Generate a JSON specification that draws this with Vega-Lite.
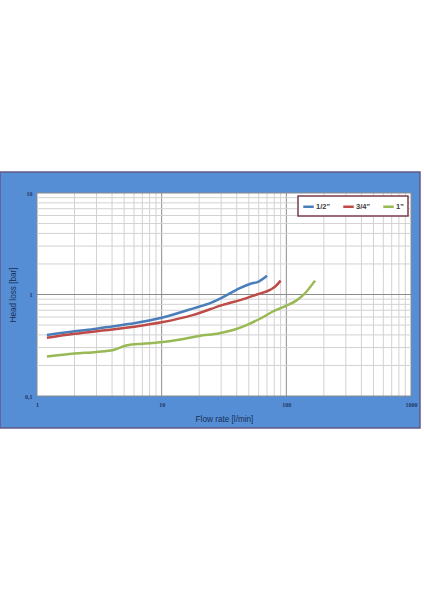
{
  "$schema": "https://vega.github.io/schema/vega-lite/v6.json",
  "autosize": {"type": "none"},
  "padding": {"left": 37, "top": 193, "right": 13, "bottom": 204},
  "width": 374,
  "height": 203,
  "background": "#ffffff",
  "config": {
    "view": {"stroke": null}
  },
  "datasets": {
    "curves": [
      {"size": "1/2\"", "flow": 1.2, "loss": 0.40},
      {"size": "1/2\"", "flow": 2, "loss": 0.435},
      {"size": "1/2\"", "flow": 3, "loss": 0.46},
      {"size": "1/2\"", "flow": 4, "loss": 0.485},
      {"size": "1/2\"", "flow": 6, "loss": 0.52},
      {"size": "1/2\"", "flow": 10, "loss": 0.59},
      {"size": "1/2\"", "flow": 18, "loss": 0.73},
      {"size": "1/2\"", "flow": 25, "loss": 0.83},
      {"size": "1/2\"", "flow": 31, "loss": 0.94},
      {"size": "1/2\"", "flow": 42, "loss": 1.15},
      {"size": "1/2\"", "flow": 51, "loss": 1.27},
      {"size": "1/2\"", "flow": 60, "loss": 1.34},
      {"size": "1/2\"", "flow": 70, "loss": 1.53},
      {"size": "3/4\"", "flow": 1.2, "loss": 0.375},
      {"size": "3/4\"", "flow": 2, "loss": 0.41},
      {"size": "3/4\"", "flow": 4, "loss": 0.452},
      {"size": "3/4\"", "flow": 6, "loss": 0.482},
      {"size": "3/4\"", "flow": 10, "loss": 0.532},
      {"size": "3/4\"", "flow": 18, "loss": 0.63},
      {"size": "3/4\"", "flow": 31, "loss": 0.79},
      {"size": "3/4\"", "flow": 48, "loss": 0.92},
      {"size": "3/4\"", "flow": 58, "loss": 1.0},
      {"size": "3/4\"", "flow": 74, "loss": 1.11},
      {"size": "3/4\"", "flow": 81, "loss": 1.19},
      {"size": "3/4\"", "flow": 90, "loss": 1.37},
      {"size": "1\"", "flow": 1.2, "loss": 0.245},
      {"size": "1\"", "flow": 2, "loss": 0.262},
      {"size": "1\"", "flow": 3, "loss": 0.272},
      {"size": "1\"", "flow": 4.1, "loss": 0.284},
      {"size": "1\"", "flow": 5.3, "loss": 0.316},
      {"size": "1\"", "flow": 7, "loss": 0.327},
      {"size": "1\"", "flow": 9.7, "loss": 0.338},
      {"size": "1\"", "flow": 15, "loss": 0.365},
      {"size": "1\"", "flow": 20, "loss": 0.39},
      {"size": "1\"", "flow": 29, "loss": 0.415},
      {"size": "1\"", "flow": 38, "loss": 0.45},
      {"size": "1\"", "flow": 48, "loss": 0.50},
      {"size": "1\"", "flow": 62, "loss": 0.58},
      {"size": "1\"", "flow": 78, "loss": 0.68},
      {"size": "1\"", "flow": 100, "loss": 0.775},
      {"size": "1\"", "flow": 120, "loss": 0.87},
      {"size": "1\"", "flow": 137, "loss": 0.99},
      {"size": "1\"", "flow": 170, "loss": 1.37}
    ],
    "gridx": [
      {"v": 1, "kind": "major"}, {"v": 2, "kind": "minor"}, {"v": 3, "kind": "minor"},
      {"v": 4, "kind": "minor"}, {"v": 5, "kind": "minor"}, {"v": 6, "kind": "minor"},
      {"v": 7, "kind": "minor"}, {"v": 8, "kind": "minor"}, {"v": 9, "kind": "minor"},
      {"v": 10, "kind": "major"}, {"v": 20, "kind": "minor"}, {"v": 30, "kind": "minor"},
      {"v": 40, "kind": "minor"}, {"v": 50, "kind": "minor"}, {"v": 60, "kind": "minor"},
      {"v": 70, "kind": "minor"}, {"v": 80, "kind": "minor"}, {"v": 90, "kind": "minor"},
      {"v": 100, "kind": "major"}, {"v": 200, "kind": "minor"}, {"v": 300, "kind": "minor"},
      {"v": 400, "kind": "minor"}, {"v": 500, "kind": "minor"}, {"v": 600, "kind": "minor"},
      {"v": 700, "kind": "minor"}, {"v": 800, "kind": "minor"}, {"v": 900, "kind": "minor"},
      {"v": 1000, "kind": "major"}
    ],
    "gridy": [
      {"v": 0.1, "kind": "major"}, {"v": 0.2, "kind": "minor"}, {"v": 0.3, "kind": "minor"},
      {"v": 0.4, "kind": "minor"}, {"v": 0.5, "kind": "minor"}, {"v": 0.6, "kind": "minor"},
      {"v": 0.7, "kind": "minor"}, {"v": 0.8, "kind": "minor"}, {"v": 0.9, "kind": "minor"},
      {"v": 1, "kind": "major"}, {"v": 2, "kind": "minor"}, {"v": 3, "kind": "minor"},
      {"v": 4, "kind": "minor"}, {"v": 5, "kind": "minor"}, {"v": 6, "kind": "minor"},
      {"v": 7, "kind": "minor"}, {"v": 8, "kind": "minor"}, {"v": 9, "kind": "minor"},
      {"v": 10, "kind": "major"}
    ]
  },
  "encoding": {
    "x": {
      "type": "quantitative",
      "scale": {"type": "log", "domain": [1, 1000], "nice": false},
      "axis": {
        "zindex": 1,
        "title": "Flow rate [l/min]",
        "values": [1, 10, 100, 1000],
        "format": "d",
        "grid": false,
        "ticks": false,
        "domain": false,
        "labelFont": "Liberation Serif",
        "labelFontWeight": "bold",
        "labelFontSize": 6,
        "labelColor": "#1f3864",
        "labelPadding": 5,
        "labelFlush": false,
        "labelOverlap": false,
        "titleFont": "Liberation Sans",
        "titleFontWeight": "normal",
        "titleFontSize": 8.2,
        "titleColor": "#1a2f55",
        "titlePadding": 8
      }
    },
    "y": {
      "type": "quantitative",
      "scale": {"type": "log", "domain": [0.1, 10], "nice": false},
      "axis": {
        "zindex": 1,
        "title": "Head loss [bar]",
        "values": [0.1, 1, 10],
        "labelExpr": "datum.value < 0.5 ? '0,1' : datum.label",
        "grid": false,
        "ticks": false,
        "domain": false,
        "labelFont": "Liberation Serif",
        "labelFontWeight": "bold",
        "labelFontSize": 6,
        "labelColor": "#1f3864",
        "labelPadding": 5,
        "labelFlush": false,
        "labelOverlap": false,
        "titleFont": "Liberation Sans",
        "titleFontWeight": "normal",
        "titleFontSize": 8.2,
        "titleColor": "#1a2f55",
        "titlePadding": 7
      }
    }
  },
  "layer": [
    {
      "description": "blue chart frame behind everything",
      "data": {"values": [{}]},
      "mark": {"type": "rect", "fill": "#558ed5", "stroke": "#62598a", "strokeWidth": 1.5, "clip": false},
      "encoding": {
        "x": {"datum": 0.505},
        "x2": {"datum": 1181},
        "y": {"datum": 16.1},
        "y2": {"datum": 0.0484}
      }
    },
    {
      "description": "white plot area",
      "data": {"values": [{}]},
      "mark": {"type": "rect", "fill": "#ffffff"},
      "encoding": {
        "x": {"datum": 1},
        "x2": {"datum": 1000},
        "y": {"datum": 10},
        "y2": {"datum": 0.1}
      }
    },
    {
      "data": {"name": "gridx"},
      "mark": {"type": "rule", "strokeWidth": 1},
      "encoding": {
        "x": {"field": "v"},
        "stroke": {
          "field": "kind",
          "type": "nominal",
          "scale": {"domain": ["major", "minor"], "range": ["#8c8c8c", "#d2d2d2"]},
          "legend": null
        }
      }
    },
    {
      "data": {"name": "gridy"},
      "mark": {"type": "rule", "strokeWidth": 1},
      "encoding": {
        "y": {"field": "v"},
        "stroke": {
          "field": "kind",
          "type": "nominal",
          "scale": {"domain": ["major", "minor"], "range": ["#8c8c8c", "#d2d2d2"]},
          "legend": null
        }
      }
    },
    {
      "data": {"name": "curves"},
      "mark": {"type": "line", "strokeWidth": 2.5, "interpolate": "monotone"},
      "encoding": {
        "x": {"field": "flow"},
        "y": {"field": "loss"},
        "color": {
          "field": "size",
          "type": "nominal",
          "sort": null,
          "scale": {"domain": ["1/2\"", "3/4\"", "1\""], "range": ["#4a7ebb", "#be4b48", "#98b954"]},
          "legend": {
            "zindex": 2,
            "title": null,
            "orient": "top-right",
            "offset": 3,
            "direction": "horizontal",
            "fillColor": "#ffffff",
            "strokeColor": "#7b3b4b",
            "padding": 4,
            "symbolType": "stroke",
            "symbolSize": 110,
            "symbolStrokeWidth": 2.5,
            "labelFont": "Liberation Sans",
            "labelFontSize": 7.5,
            "labelFontWeight": "bold",
            "labelColor": "#3a3a3a",
            "labelOffset": 1,
            "columnPadding": 8,
            "encode": {"legend": {"update": {"strokeWidth": {"value": 1.5}}}}
          }
        }
      }
    }
  ],
  "resolve": {"scale": {"color": "independent", "stroke": "independent"}}
}
